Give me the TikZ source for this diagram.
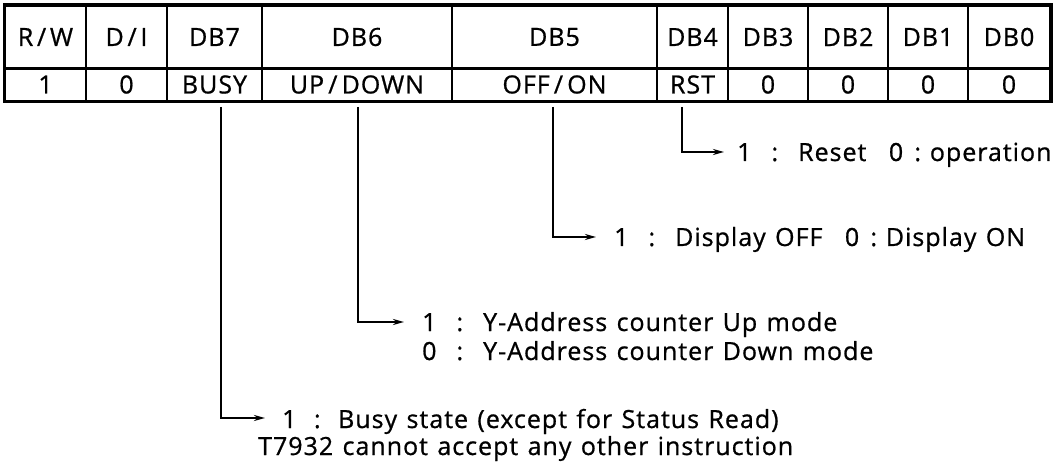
\documentclass[tikz,border=0pt]{standalone}
\usepackage{fontspec}
\setmainfont{Open Sans}[LetterSpace=4, FakeBold=0.8, WordSpace=1.25]
\usetikzlibrary{arrows.meta}
\newcommand\wgap{\hspace{0.8em}}
\newcommand\sgap{\hspace{0.7em}}
\newcommand\bgap{\hspace{0.9em}}
\newcommand\ngapa{\hspace{0.45em}}
\newcommand\ngapb{\hspace{0.35em}}
\newcommand\slsep{\hspace{0.15em}/\hspace{0.15em}}
\tikzset{
  cell/.style={draw, line width=1.5pt, inner sep=0pt, font=\fontsize{25}{29}\selectfont},
  conn/.style={line width=2pt, -{Stealth[length=11pt,width=6pt]}},
  lbl/.style={anchor=base west, inner sep=0pt, font=\fontsize{25}{29}\selectfont},
}
\begin{document}
\begin{tikzpicture}[x=1pt,y=-1pt]
\useasboundingbox (0,0) rectangle (1055,470);
\def\ytop{6}\def\ymid{68}\def\ybot{101}
\foreach \i/\l/\r/\ha/\da in {
  1/5/86/{R\slsep W}/1,
  2/86/167/{D\slsep I}/0,
  3/167/262/DB7/BUSY,
  4/262/452/DB6/{UP\,/\,DOWN},
  5/452/657/DB5/{OFF\,/\,ON},
  6/657/728/DB4/RST,
  7/728/808/DB3/0,
  8/808/888/DB2/0,
  9/888/968/DB1/0,
  10/968/1050/DB0/0}{
  \node[cell, minimum width=\r-\l, minimum height=\ymid-\ytop] (h\i) at ({(\l+\r)/2},{(\ytop+\ymid)/2}) {\ha};
  \node[cell, minimum width=\r-\l, minimum height=\ybot-\ymid] (d\i) at ({(\l+\r)/2},{(\ymid+\ybot)/2}) {\da};
}
\draw[line width=3pt] (h1.south west) -- (h10.south east);
\draw[line width=3.5pt] (h1.north west) rectangle (d10.south east);
\coordinate (s3) at (221,107);
\coordinate (s4) at (358,107);
\coordinate (s5) at (553,107);
\coordinate (s6) at (682,107);
\coordinate (a3) at (265,418);
\coordinate (a4) at (404,322);
\coordinate (a5) at (596,237);
\coordinate (a6) at (724,152);
\draw[conn] (s3) |- (a3);
\draw[conn] (s4) |- (a4);
\draw[conn] (s5) |- (a5);
\draw[conn] (s6) |- (a6);
\node[lbl] (t6) at (737,161) {1\wgap:\wgap Reset\bgap 0\ngapa:\ngapb operation};
\node[lbl] (t5) at (614,246) {1\wgap:\wgap Display OFF\bgap 0\ngapa:\ngapb Display ON};
\node[lbl] (t4a) at (422,331) {1\wgap:\wgap Y-Address counter Up mode};
\node[lbl] (t4b) at (422,360) {0\wgap:\wgap Y-Address counter Down mode};
\node[lbl] (t3a) at (282,428) {1\sgap:\sgap Busy state (except for Status Read)};
\node[lbl] (t3b) at (258,455) {T7932 cannot accept any other instruction};
\end{tikzpicture}
\end{document}
